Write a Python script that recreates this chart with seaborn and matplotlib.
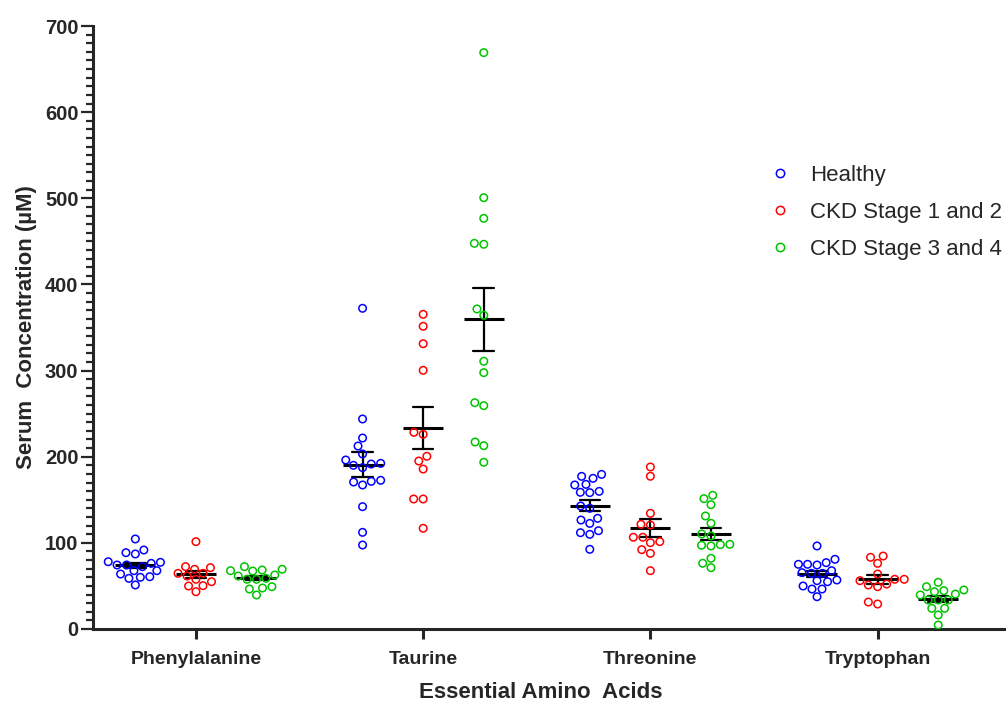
import pandas as pd
import seaborn as sns
import matplotlib.pyplot as plt
from matplotlib.lines import Line2D
from matplotlib.ticker import MultipleLocator

sns.set_style("ticks")
plt.rcParams['font.family'] = ['Liberation Sans', 'DejaVu Sans']

# categories and groups
amino_acids = ["Phenylalanine", "Taurine", "Threonine", "Tryptophan"]
groups = ["Healthy", "CKD Stage 1 and 2", "CKD Stage 3 and 4"]
group_colors = ["#0000FF", "#FF0000", "#00C400"]

# serum concentrations (uM)
phe_healthy = [104.5, 91.7, 88.6, 87.1, 78.1, 77.4, 76.2, 74.3, 74.3, 72.4,
               67.7, 67.7, 63.8, 60.7, 60.0, 58.8, 51.1]
phe_ckd12 = [101.4, 72.4, 69.3, 71.2, 61.5, 64.6, 57.7, 54.9, 50.3, 49.9, 43.3, 64.6]
phe_ckd34 = [69.3, 72.4, 67.7, 67.3, 68.5, 62.7, 61.5, 58.8, 57.7, 49.1,
             46.4, 47.6, 39.5, 57.7]

tau_healthy = [372.3, 243.8, 221.7, 212.4, 203.2, 196.2, 192.3, 191.5, 190.0,
               187.3, 172.6, 171.4, 170.6, 167.2, 142.0, 112.2, 97.5]
tau_ckd12 = [365.3, 351.4, 331.2, 300.3, 228.3, 226.0, 200.5, 195.0, 185.7,
             150.9, 150.9, 116.9]
tau_ckd34 = [669.1, 500.7, 476.7, 447.7, 446.6, 371.5, 364.2, 310.8, 297.6,
             262.7, 259.3, 217.1, 212.8, 193.5]

thr_healthy = [179.5, 177.2, 174.9, 167.2, 167.9, 158.3, 158.7, 159.8, 140.1,
               142.8, 126.5, 122.6, 128.5, 111.8, 109.9, 114.1, 92.5]
thr_ckd12 = [188.1, 177.3, 134.3, 120.7, 121.5, 106.5, 106.5, 100.2, 101.4,
             92.1, 87.8, 67.7]
thr_ckd34 = [151.3, 155.2, 144.3, 131.2, 122.7, 110.3, 108.0, 96.4, 98.3,
             97.2, 97.9, 82.1, 76.3, 71.2]

trp_healthy = [96.4, 80.9, 77.0, 74.3, 75.1, 75.1, 67.7, 64.6, 64.6, 65.4,
               56.1, 56.9, 54.9, 49.9, 46.4, 46.4, 37.5]
trp_ckd12 = [84.7, 83.2, 76.2, 63.8, 57.7, 57.7, 56.1, 51.1, 49.1, 52.2, 29.0, 31.3]
trp_ckd34 = [54.2, 49.1, 45.3, 44.5, 43.3, 40.6, 39.5, 33.7, 33.7, 33.7,
             24.0, 24.0, 16.3, 4.6]

values = {
    ("Phenylalanine", "Healthy"): phe_healthy,
    ("Phenylalanine", "CKD Stage 1 and 2"): phe_ckd12,
    ("Phenylalanine", "CKD Stage 3 and 4"): phe_ckd34,
    ("Taurine", "Healthy"): tau_healthy,
    ("Taurine", "CKD Stage 1 and 2"): tau_ckd12,
    ("Taurine", "CKD Stage 3 and 4"): tau_ckd34,
    ("Threonine", "Healthy"): thr_healthy,
    ("Threonine", "CKD Stage 1 and 2"): thr_ckd12,
    ("Threonine", "CKD Stage 3 and 4"): thr_ckd34,
    ("Tryptophan", "Healthy"): trp_healthy,
    ("Tryptophan", "CKD Stage 1 and 2"): trp_ckd12,
    ("Tryptophan", "CKD Stage 3 and 4"): trp_ckd34,
}
rows = [(aa, g, v) for (aa, g), vals in values.items() for v in vals]
df = pd.DataFrame(rows, columns=["amino", "group", "conc"])

fig = plt.figure(figsize=(10.06, 7.02), dpi=100)
ax = fig.add_axes([93 / 1006, 1 - 629 / 702, 1 - 93 / 1006, (629 - 26) / 702])

sns.swarmplot(data=df, x="amino", y="conc", hue="group", order=amino_acids,
              hue_order=groups, palette=group_colors, dodge=True,
              size=5.4, linewidth=0, legend=False, ax=ax)
# open circles
for coll in ax.collections:
    fc = coll.get_facecolors()
    coll.set_edgecolors(fc)
    coll.set_facecolors("none")
    coll.set_linewidth(1.1)

# mean +/- SEM
sns.pointplot(data=df, x="amino", y="conc", hue="group", order=amino_acids,
              hue_order=groups, palette=["black"] * 3, dodge=0.533,
              errorbar="se", capsize=0.09, linestyle="none", marker="_",
              markersize=29, markeredgewidth=2.2, err_kws={"linewidth": 1.6},
              legend=False, ax=ax)

ax.set_xlim(-0.453, 3.565)
ax.set_ylim(0, 700)
ax.yaxis.set_major_locator(MultipleLocator(100))
ax.yaxis.set_minor_locator(MultipleLocator(10))
sns.despine(ax=ax)
for side in ["left", "bottom"]:
    ax.spines[side].set_linewidth(2.2)
ax.tick_params(axis="y", which="major", length=9, width=1.6, labelsize=14.5, pad=1.5)
ax.tick_params(axis="y", which="minor", length=5, width=1.6)
ax.tick_params(axis="x", length=7.5, width=2.2, labelsize=14, pad=8)
for lab in ax.get_xticklabels() + ax.get_yticklabels():
    lab.set_fontweight("bold")

ax.set_xlabel("Essential Amino  Acids", fontsize=16, fontweight="bold")
ax.xaxis.set_label_coords(0.49, -0.088)
ax.set_ylabel("Serum  Concentration (µM)", fontsize=16, fontweight="bold", labelpad=6)

handles = [Line2D([], [], linestyle="none", marker="o", markersize=6,
                  markerfacecolor="none", markeredgecolor=c, markeredgewidth=1.1)
           for c in group_colors]
fig.legend(handles, groups, loc="center left", bbox_to_anchor=(0.764, 0.698),
           frameon=False, fontsize=16, handlelength=1.0, handletextpad=0.85,
           labelspacing=0.72, borderpad=0, borderaxespad=0)

fig.savefig("out.png", dpi=100)
